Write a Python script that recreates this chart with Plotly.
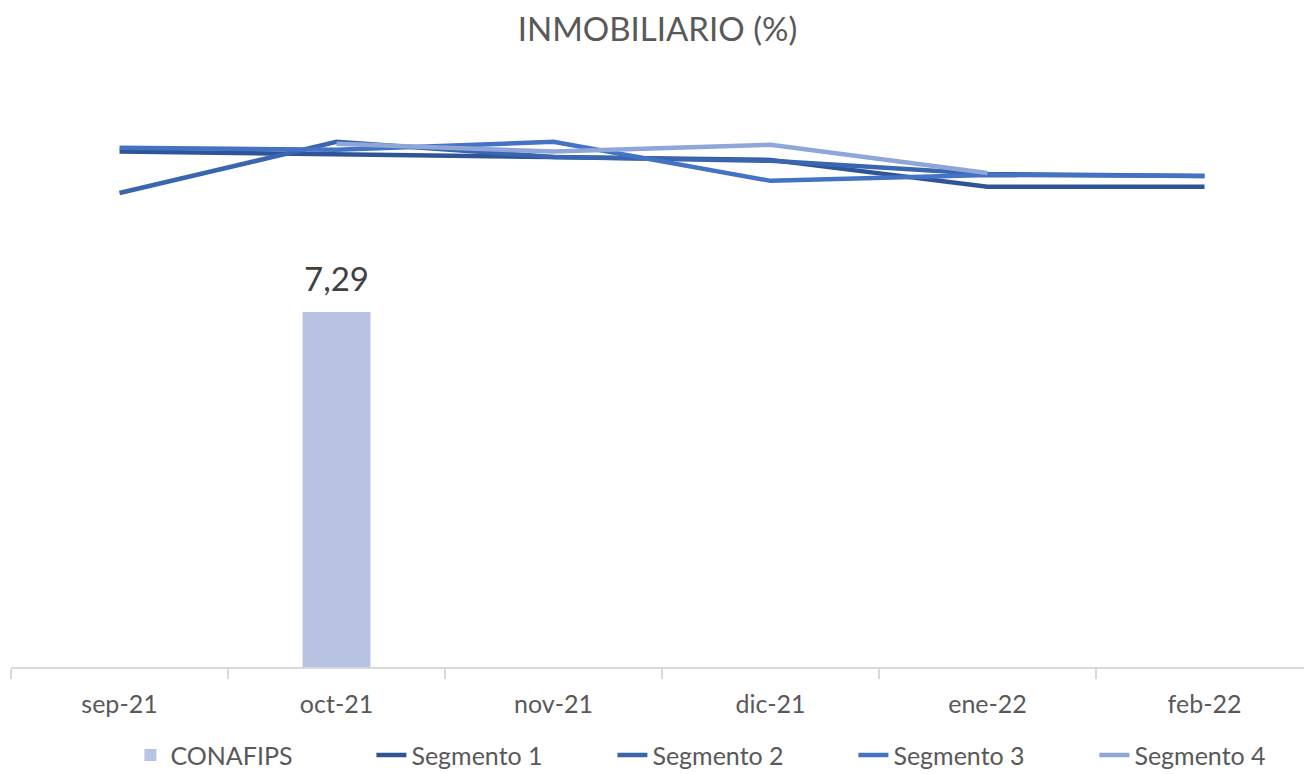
import plotly.graph_objects as go

categories = ["sep-21", "oct-21", "nov-21", "dic-21", "ene-22", "feb-22"]
conafips = [None, 7.29, None, None, None, None]
segmento1 = [10.58, 10.53, 10.47, 10.41, 9.86, 9.86]
segmento2 = [9.73, 10.78, 10.47, 10.39, 10.12, 10.08]
segmento3 = [10.66, 10.62, 10.78, 9.98, 10.10, 10.08]
segmento4 = [None, 10.74, 10.58, 10.72, 10.14, None]

FONT = "Lato"
GREY = "#595959"

fig = go.Figure()
fig.add_trace(go.Bar(
    x=categories, y=conafips, name="CONAFIPS",
    marker=dict(color="#B9C3E3", line=dict(width=0)),
))
for name, vals, col in [
    ("Segmento 1", segmento1, "#2F5597"),
    ("Segmento 2", segmento2, "#3A65AF"),
    ("Segmento 3", segmento3, "#4472C4"),
    ("Segmento 4", segmento4, "#8FA6D9"),
]:
    fig.add_trace(go.Scatter(
        x=categories, y=vals, name=name, mode="lines",
        line=dict(color=col, width=4.5), connectgaps=False,
    ))

# data labels for the bar series
for cat, v in zip(categories, conafips):
    if v is not None:
        fig.add_annotation(
            x=cat, y=v, xref="x", yref="y",
            text=f"{v:.2f}".replace(".", ","),
            showarrow=False, yanchor="bottom", yshift=12,
            font=dict(family=FONT, size=33, color="#404040"),
        )

fig.update_layout(
    width=1304, height=774,
    paper_bgcolor="white", plot_bgcolor="white",
    margin=dict(l=11, r=0, t=80, b=107, autoexpand=False),
    separators=",.",
    bargap=0.687,
    showlegend=True,
    title=dict(text="INMOBILIARIO (%)", x=0.5, xanchor="center", xref="paper",
               y=0.962, yref="container", yanchor="middle",
               font=dict(family=FONT, size=33, color=GREY)),
    font=dict(family=FONT, color=GREY),
    legend=dict(orientation="h", x=0.1, xanchor="left", xref="container",
                y=0.054, yanchor="top", yref="container",
                font=dict(family=FONT, size=25, color=GREY),
                entrywidth=196, entrywidthmode="pixels",
                itemclick=False, traceorder="normal"),
    xaxis=dict(
        type="category", range=[-0.5, 5.5 - 9 / 217],
        showline=True, linecolor="#D9D9D9", linewidth=2,
        ticks="outside", tickson="boundaries", ticklen=10, tickcolor="#D9D9D9", tickwidth=1.5,
        tickfont=dict(family=FONT, size=25, color=GREY),
        ticklabelstandoff=14,
        showgrid=False, zeroline=False,
    ),
    yaxis=dict(range=[0, 12.05], visible=False, showgrid=False, zeroline=False),
)

fig.write_html("out.html", config={"displayModeBar": False},
               post_script="document.body.style.margin='0';document.body.style.overflow='hidden';")
